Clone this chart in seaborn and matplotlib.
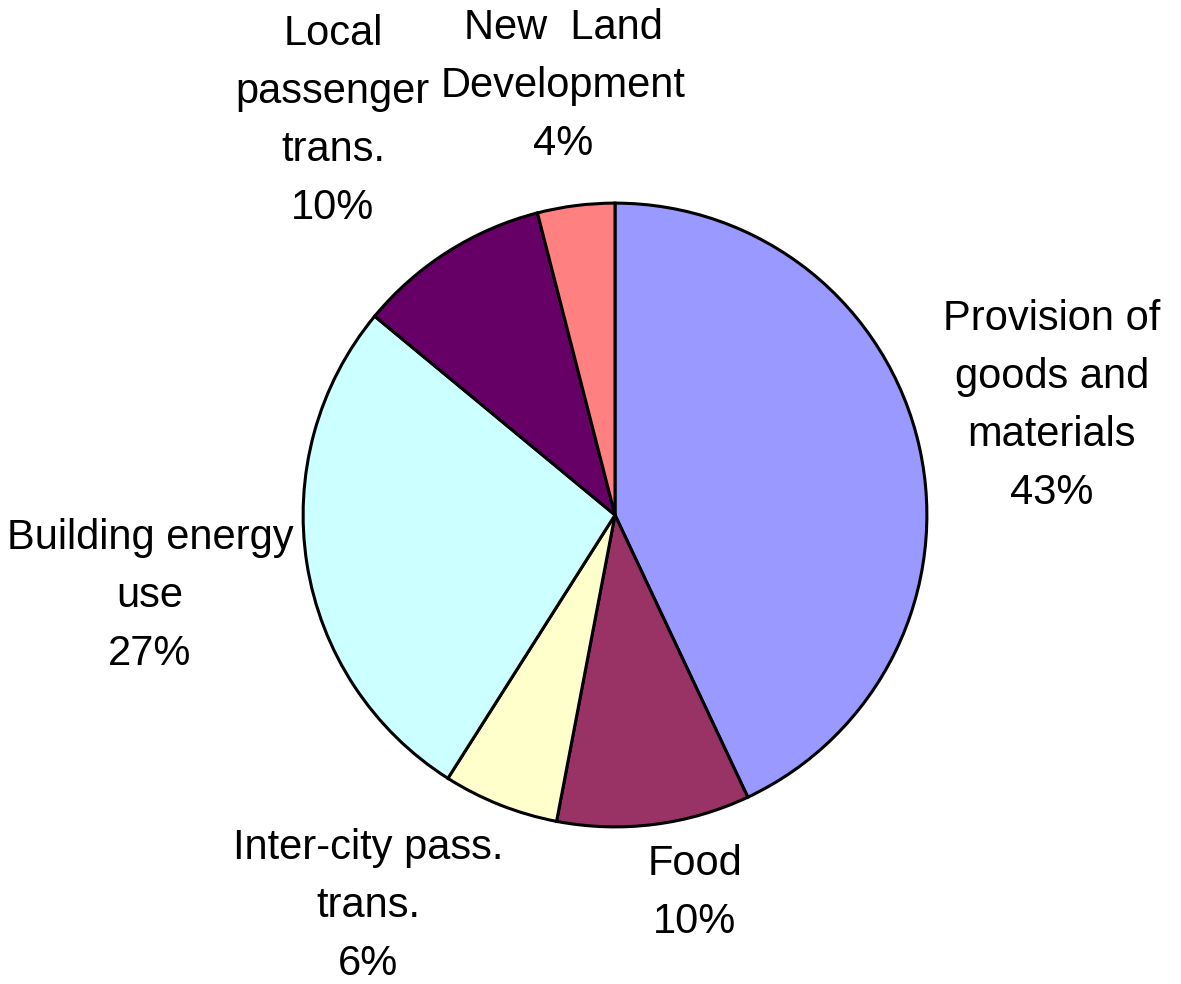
import matplotlib
matplotlib.use("Agg")
import matplotlib.pyplot as plt
import seaborn as sns

# Share of footprint by consumption category (percent)
categories = [
    "Provision of\ngoods and\nmaterials",
    "Food",
    "Inter-city pass.\ntrans.",
    "Building energy\nuse",
    "Local\npassenger\ntrans.",
    "New  Land\nDevelopment",
]
shares = [43, 10, 6, 27, 10, 4]
colors = ["#9999FF", "#993366", "#FFFFCC", "#CCFFFF", "#660066", "#FF8080"]

sns.set_theme(style="white")
plt.rcParams["font.family"] = ["Liberation Sans", "DejaVu Sans"]

W, H = 1181, 984
fig = plt.figure(figsize=(W / 100, H / 100), dpi=100)
fig.patch.set_facecolor("white")

# Pie occupies a square region centred at (615, 515) px with radius 315 px
cx, cy, r = 615, 515, 315
ax = fig.add_axes([(cx - r) / W, (H - cy - r) / H, 2 * r / W, 2 * r / H])
ax.pie(
    shares,
    colors=colors,
    startangle=90,
    counterclock=False,
    radius=1.0,
    wedgeprops=dict(edgecolor="black", linewidth=2.2),
)
ax.set_xlim(-1.01, 1.01)
ax.set_ylim(-1.01, 1.01)
ax.set_aspect("equal")
ax.axis("off")

# Label anchor points (pixel centres of each text block)
label_pos = [(1052, 406), (695, 893), (368, 906), (150, 596), (333, 121), (563, 86)]
for name, val, (px, py) in zip(categories, shares, label_pos):
    fig.text(
        px / W, 1 - py / H, f"{name}\n{val}%",
        ha="center", va="center", multialignment="center",
        fontsize=30, color="black", linespacing=1.58,
    )

fig.savefig("out.png", dpi=100, facecolor="white")
